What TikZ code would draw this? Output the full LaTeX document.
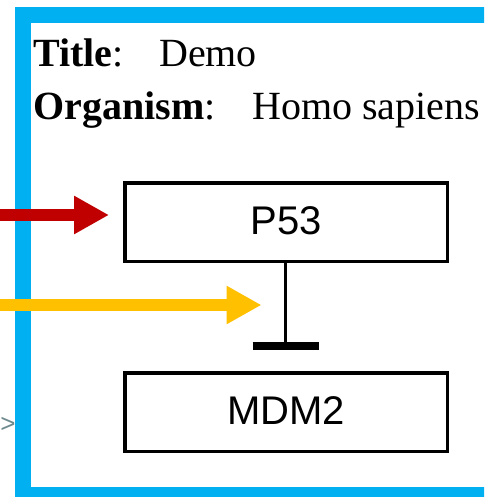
\documentclass[tikz,border=0pt]{standalone}
\usepackage{fontspec}
\setmainfont{Liberation Serif}
\newfontfamily\genefont{Liberation Sans}
\usetikzlibrary{arrows.meta}
\definecolor{framecyan}{HTML}{00B0F0}
\definecolor{actred}{HTML}{C00000}
\definecolor{actgold}{HTML}{FFC000}
\definecolor{markgray}{HTML}{6F8A8E}
\tikzset{
  genebox/.style={draw=black, line width=3.5pt, fill=white, inner sep=0pt,
    minimum width=322.5pt, minimum height=78.5pt,
    font=\genefont\fontsize{40}{48}\selectfont},
  infotext/.style={inner sep=0pt, anchor=base west,
    font=\fontsize{40}{48}\selectfont},
  activation/.style={line width=12pt,
    -{Triangle[length=35pt,width=36pt]}},
  inhibline/.style={line width=3.5pt},
  inhibbar/.style={line width=8pt}
}
\begin{document}
\begin{tikzpicture}[x=1pt, y=-1pt]
  \useasboundingbox (0,0) rectangle (484,497);
  \clip (0,0) rectangle (484,497);
  \fill[white] (0,0) rectangle (484,497);

  % pathway frame
  \draw[framecyan, line width=16pt] (23,15) rectangle (500,495);

  % header fields
  \node[infotext] (titlekey) at (33,67) {\textbf{Title}:};
  \node[infotext] (titleval) at (159,67) {Demo};
  \node[infotext] (orgkey) at (33,120) {\textbf{Organism}:};
  \node[infotext] (orgval) at (252,120) {Homo sapiens};

  % genes
  \node[genebox, text depth=3pt] (p53) at (286,222) {P53};
  \node[genebox, text depth=3pt] (mdm2) at (286,412) {MDM2};

  % inhibition of MDM2 by P53
  \coordinate (barmid) at (285.5,346);
  \coordinate (inhmid) at (285.5,305);
  \draw[inhibline] (p53.south -| barmid) -- (barmid);
  \draw[inhibbar] ([xshift=-33pt]barmid) -- ([xshift=33pt]barmid);

  % incoming activations
  \coordinate (redsrc) at (-10,215);
  \coordinate (goldsrc) at (-10,305);
  \draw[activation, actred] (redsrc) -- ([xshift=-14pt]p53.west |- redsrc);
  \draw[activation, actgold] (goldsrc) -- ([xshift=-24pt]inhmid);

  % edge marker left of the frame
  \node[markgray, inner sep=0pt, font=\genefont\fontsize{26}{28}\selectfont]
    (edgemark) at (8,425) {>};
\end{tikzpicture}
\end{document}
